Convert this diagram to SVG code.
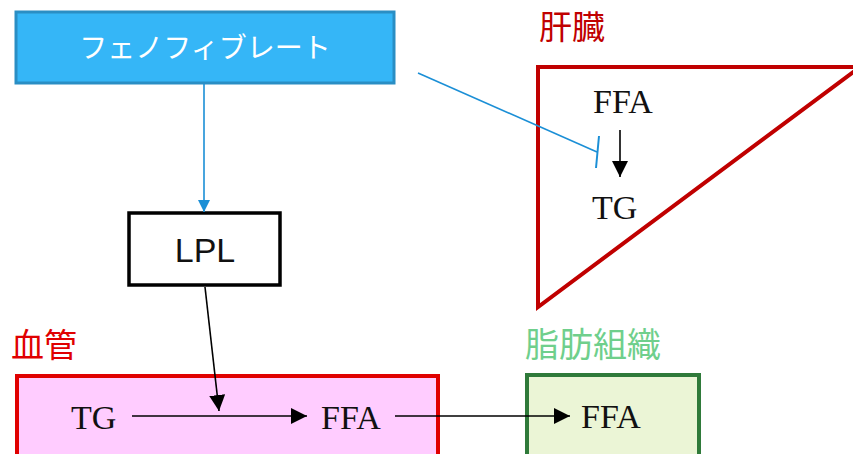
<svg xmlns="http://www.w3.org/2000/svg" width="853" height="454" viewBox="0 0 853 454">
<defs>
<style>
.jp{font-family:"Liberation Sans","Noto Sans CJK JP",sans-serif;}
.tm{font-family:"Liberation Serif","Times New Roman",serif;font-size:34px;fill:#111;}
.conn{stroke:#000;stroke-width:1.6;fill:none;}
</style>
<marker id="ahb" viewBox="0 0 10 10" refX="10" refY="5" markerWidth="12" markerHeight="12" markerUnits="userSpaceOnUse" orient="auto"><path d="M0,0 L10,5 L0,10 z" fill="#1b8fd6"/></marker>
<marker id="ahl" viewBox="0 0 10 10" refX="10" refY="5" markerWidth="16" markerHeight="16" markerUnits="userSpaceOnUse" orient="auto"><path d="M0,0 L10,5 L0,10 z" fill="#000"/></marker>
</defs>
<rect width="853" height="454" fill="#fff"/>

<g id="liver">
<polygon points="538,67 860,67 538,307" fill="#fff" stroke="#c00000" stroke-width="4"/>
<text x="539" y="39" class="jp" font-size="33" fill="#c00000">肝臓</text>
<text x="593" y="113" class="tm">FFA</text>
<text x="592" y="219" class="tm">TG</text>
</g>

<g id="fenofibrate">
<rect x="16" y="12" width="378" height="71" fill="#35b6f7" stroke="#2a8ec4" stroke-width="3"/>
<text x="205" y="58" class="jp" font-size="28" fill="#fff" text-anchor="middle">フェノフィブレート</text>
</g>

<g id="lpl">
<rect x="129" y="213" width="151" height="72" fill="#fff" stroke="#000" stroke-width="3.5"/>
<text x="205" y="262" class="jp" font-size="34" fill="#111" text-anchor="middle">LPL</text>
</g>

<g id="vessel">
<text x="11" y="357" class="jp" font-size="33" fill="#e00000">血管</text>
<rect x="17" y="376" width="421" height="84" fill="#ffccff" stroke="#e00000" stroke-width="4"/>
<text x="71" y="429" class="tm">TG</text>
<text x="321" y="429" class="tm">FFA</text>
</g>

<g id="adipose">
<text x="525" y="357" class="jp" font-size="34" fill="#6fcf8c">脂肪組織</text>
<rect x="527" y="375" width="172" height="85" fill="#ebf5d6" stroke="#2f7a3a" stroke-width="4"/>
<text x="581" y="428" class="tm">FFA</text>
</g>

<g id="connectors">
<line x1="204" y1="84" x2="204" y2="212" stroke="#1b8fd6" stroke-width="1.6" marker-end="url(#ahb)"/>
<line x1="418" y1="73" x2="597" y2="152" stroke="#1b8fd6" stroke-width="1.6"/>
<line x1="599" y1="136" x2="596" y2="168" stroke="#1b8fd6" stroke-width="2"/>
<line x1="620" y1="130" x2="620" y2="177" class="conn" marker-end="url(#ahl)"/>
<line x1="205" y1="287" x2="219" y2="411" class="conn" marker-end="url(#ahl)"/>
<line x1="132" y1="416" x2="307" y2="416" class="conn" marker-end="url(#ahl)"/>
<line x1="395" y1="416" x2="570" y2="416" class="conn" marker-end="url(#ahl)"/>
</g>
</svg>
